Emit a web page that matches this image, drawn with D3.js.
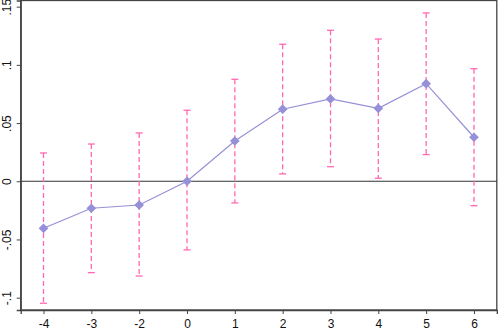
<!DOCTYPE html>
<html><head><meta charset="utf-8">
<script src="https://cdn.jsdelivr.net/npm/d3@7"></script>
<style>body{margin:0;background:#fff}svg{display:block}text{font-family:"Liberation Sans",Arial,sans-serif}</style>
</head><body><svg id="c" width="498" height="330"></svg>
<script>
const categories = ["-4","-3","-2","0","1","2","3","4","5","6"];
const estimates = [-0.0404,-0.0232,-0.0204,0.0000,0.0346,0.0619,0.0707,0.0627,0.0838,0.0378];
const upper = [0.0243,0.0320,0.0415,0.0610,0.0876,0.1177,0.1297,0.1222,0.1446,0.0967];
const lower = [-0.1048,-0.0785,-0.0814,-0.0590,-0.0186,0.0063,0.0125,0.0026,0.0229,-0.0210];
const yTicks = [-0.1,-0.05,0,0.05,0.1,0.15];
const yTickLabels = ["-.1","-.05","0",".05",".1",".15"];

const svg = d3.select("#c");
const L=20.7, R=496.8, T=0.5, B=310;
const x = d3.scaleLinear().domain([-0.477, categories.length-1+0.477]).range([L,R]);
const y = d3.scaleLinear().domain([-0.1106, 0.1553]).range([B,T]);
const idx = d3.range(categories.length);

// frame
svg.append("rect").attr("x",L).attr("y",T).attr("width",R-L).attr("height",B-T)
  .attr("fill","none").attr("stroke","#444").attr("stroke-width",1.3);

// zero line
svg.append("line").attr("x1",L).attr("x2",R).attr("y1",y(0)).attr("y2",y(0))
  .attr("stroke","#333").attr("stroke-width",1.2);

// axes
const xAxis = d3.axisBottom(x).tickValues(idx).tickFormat(i=>categories[i]).tickSize(4).tickPadding(5);
const gx = svg.append("g").attr("transform",`translate(0,${B})`).call(xAxis);
gx.select(".domain").attr("stroke","#444").attr("stroke-width",1.3);
gx.selectAll(".tick line").attr("stroke","#444");
gx.selectAll("text").attr("font-size",12).attr("fill","#111");

const yAxis = d3.axisLeft(y).tickValues(yTicks).tickFormat((d,i)=>yTickLabels[i]).tickSize(4).tickPadding(3);
const gy = svg.append("g").attr("transform",`translate(${L},0)`).call(yAxis);
gy.select(".domain").attr("stroke","#444").attr("stroke-width",1.3);
gy.selectAll(".tick line").attr("stroke","#444");
gy.selectAll("text").attr("font-size",12).attr("fill","#111")
  .attr("text-anchor","middle").attr("x",0).attr("dy",0)
  .attr("transform","translate(-9.7,0) rotate(-90)");

// error bars
const pink = "#ff69b4";
const eb = svg.append("g");
idx.forEach(i=>{
  eb.append("line").attr("x1",x(i)).attr("x2",x(i)).attr("y1",y(upper[i])).attr("y2",y(lower[i]))
    .attr("stroke",pink).attr("stroke-width",1.3).attr("stroke-dasharray","5,3");
  [upper[i],lower[i]].forEach(v=>{
    eb.append("line").attr("x1",x(i)-3.5).attr("x2",x(i)+3.5).attr("y1",y(v)).attr("y2",y(v))
      .attr("stroke",pink).attr("stroke-width",1.3);
  });
});

// line
const lav = "#9590d8";
svg.append("path").datum(idx)
  .attr("d", d3.line().x(i=>x(i)).y(i=>y(estimates[i])))
  .attr("fill","none").attr("stroke",lav).attr("stroke-width",1.2);

// markers
svg.append("g").selectAll("path").data(idx).join("path")
  .attr("d", d3.symbol().type(d3.symbolDiamond2).size(60))
  .attr("transform", i=>`translate(${x(i)},${y(estimates[i])})`)
  .attr("fill",lav);
</script></body></html>
